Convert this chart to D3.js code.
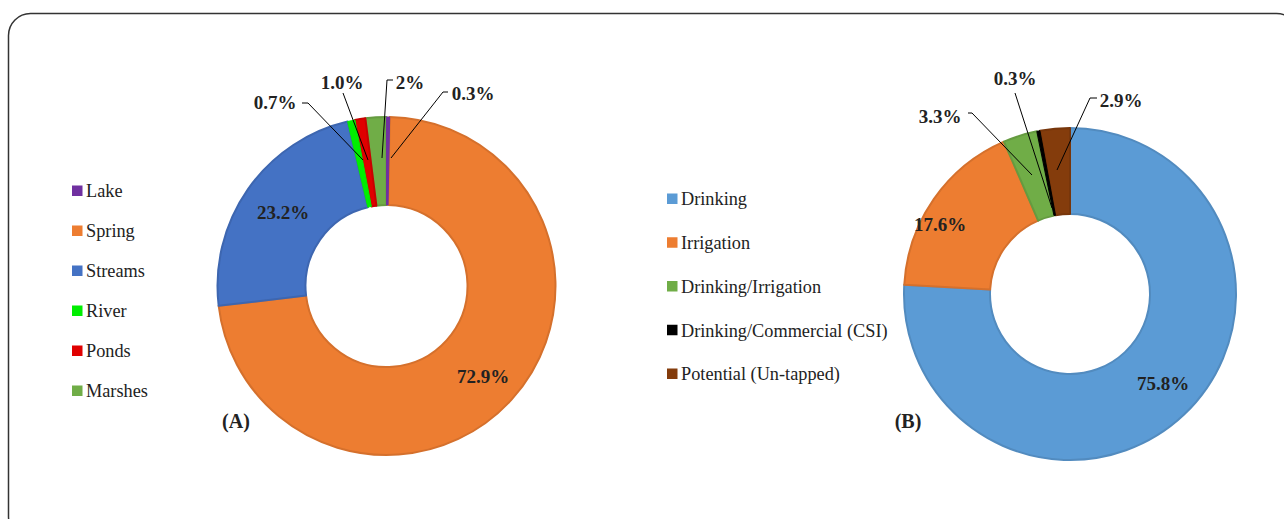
<!DOCTYPE html>
<html><head><meta charset="utf-8">
<script src="https://cdn.jsdelivr.net/npm/d3@7"></script>
<style>body{margin:0;background:#fff}svg{display:block}</style>
</head><body>
<svg id="c" width="1284" height="519"></svg>
<script>
// Chart A: sources
const catsA = ["Lake","Spring","Streams","River","Ponds","Marshes"];
const valsA = [0.3,72.9,23.2,0.7,1.0,2];
const labelsA = ["0.3%","72.9%","23.2%","0.7%","1.0%","2%"];
const colorsA = ["#7030A0","#ED7D31","#4472C4","#00EE00","#E00000","#70AD47"];
// Chart B: uses
const catsB = ["Drinking","Irrigation","Drinking/Irrigation","Drinking/Commercial (CSI)","Potential (Un-tapped)"];
const valsB = [75.8,17.6,3.3,0.3,2.9];
const labelsB = ["75.8%","17.6%","3.3%","0.3%","2.9%"];
const colorsB = ["#5B9BD5","#ED7D31","#70AD47","#000000","#843C0C"];

const FONT = "Liberation Serif";
const svg = d3.select("#c");
svg.append("rect").attr("x",8.5).attr("y",13.5).attr("width",1290).attr("height",525)
  .attr("rx",22).attr("fill","none").attr("stroke","#333").attr("stroke-width",1.5);

function donut(cfg){
  const g = svg.append("g").attr("transform",`translate(${cfg.cx},${cfg.cy})`);
  const pie = d3.pie().sort(null).value(d=>d.v);
  const data = cfg.vals.map((v,i)=>({v,i}));
  const arcs = pie(data);
  const ordered = arcs.slice().sort((a,b)=>b.data.v-a.data.v); // small slices on top
  const arc = d3.arc().innerRadius(cfg.ri).outerRadius(cfg.ro);
  g.selectAll("path.s").data(ordered).join("path").attr("class","s")
    .attr("d",arc).attr("fill",d=>cfg.colors[d.data.i])
    .attr("stroke",d=> d.data.v < 1 ? cfg.colors[d.data.i] : d3.color(cfg.colors[d.data.i]).darker(0.3))
    .attr("stroke-width",d=> d.data.v < 1 ? 1 : 2).attr("stroke-linejoin","round");
  // labels
  cfg.labels.forEach((t,i)=>{
    const L = cfg.pos[i];
    if(L.line){
      svg.append("polyline").attr("points",L.line.map(p=>p.join(",")).join(" "))
        .attr("fill","none").attr("stroke","#000").attr("stroke-width",1);
    }
    svg.append("text").attr("x",L.x).attr("y",L.y).attr("text-anchor","middle")
      .style("font-family",FONT).attr("font-weight","bold").attr("font-size",19)
      .attr("fill","#222").text(t);
  });
  // legend
  cfg.cats.forEach((c,i)=>{
    const y = cfg.ly + i*cfg.ld;
    svg.append("rect").attr("x",cfg.lx).attr("y",y-5.5).attr("width",10.5).attr("height",10.5)
      .attr("fill",cfg.colors[i]);
    svg.append("text").attr("x",cfg.lx+14).attr("y",y).attr("dy","0.35em")
      .style("font-family",FONT).attr("font-size",18.3).attr("fill","#222").text(c);
  });
  svg.append("text").attr("x",cfg.tag[0]).attr("y",cfg.tag[1]).attr("text-anchor","middle")
    .style("font-family",FONT).attr("font-weight","bold").attr("font-size",20)
    .attr("fill","#222").text(cfg.tagText);
}

donut({cx:386.5,cy:286,ro:169,ri:81,vals:valsA,colors:colorsA,labels:labelsA,cats:catsA,
  pos:[
    {x:473,y:100,line:[[448,92],[443,92],[391,158]]},
    {x:483,y:383},
    {x:283,y:219},
    {x:275,y:109,line:[[302,103],[308,103],[363,160]]},
    {x:342,y:89,line:[[343,93],[368,160]]},
    {x:410,y:89,line:[[393,80],[387,80],[382,158]]}
  ],
  lx:72,ly:191,ld:40,tag:[236,428],tagText:"(A)"});

donut({cx:1070,cy:294,ro:166,ri:80,vals:valsB,colors:colorsB,labels:labelsB,cats:catsB,
  pos:[
    {x:1163,y:390},
    {x:940,y:231},
    {x:940,y:123,line:[[968,113],[972,113],[1032,175]]},
    {x:1015,y:85,line:[[1015,93],[1052,208]]},
    {x:1121,y:107,line:[[1097,98],[1090,98],[1057,170]]}
  ],
  lx:667,ly:199,ld:43.75,tag:[908,428],tagText:"(B)"});
</script>
</body></html>
